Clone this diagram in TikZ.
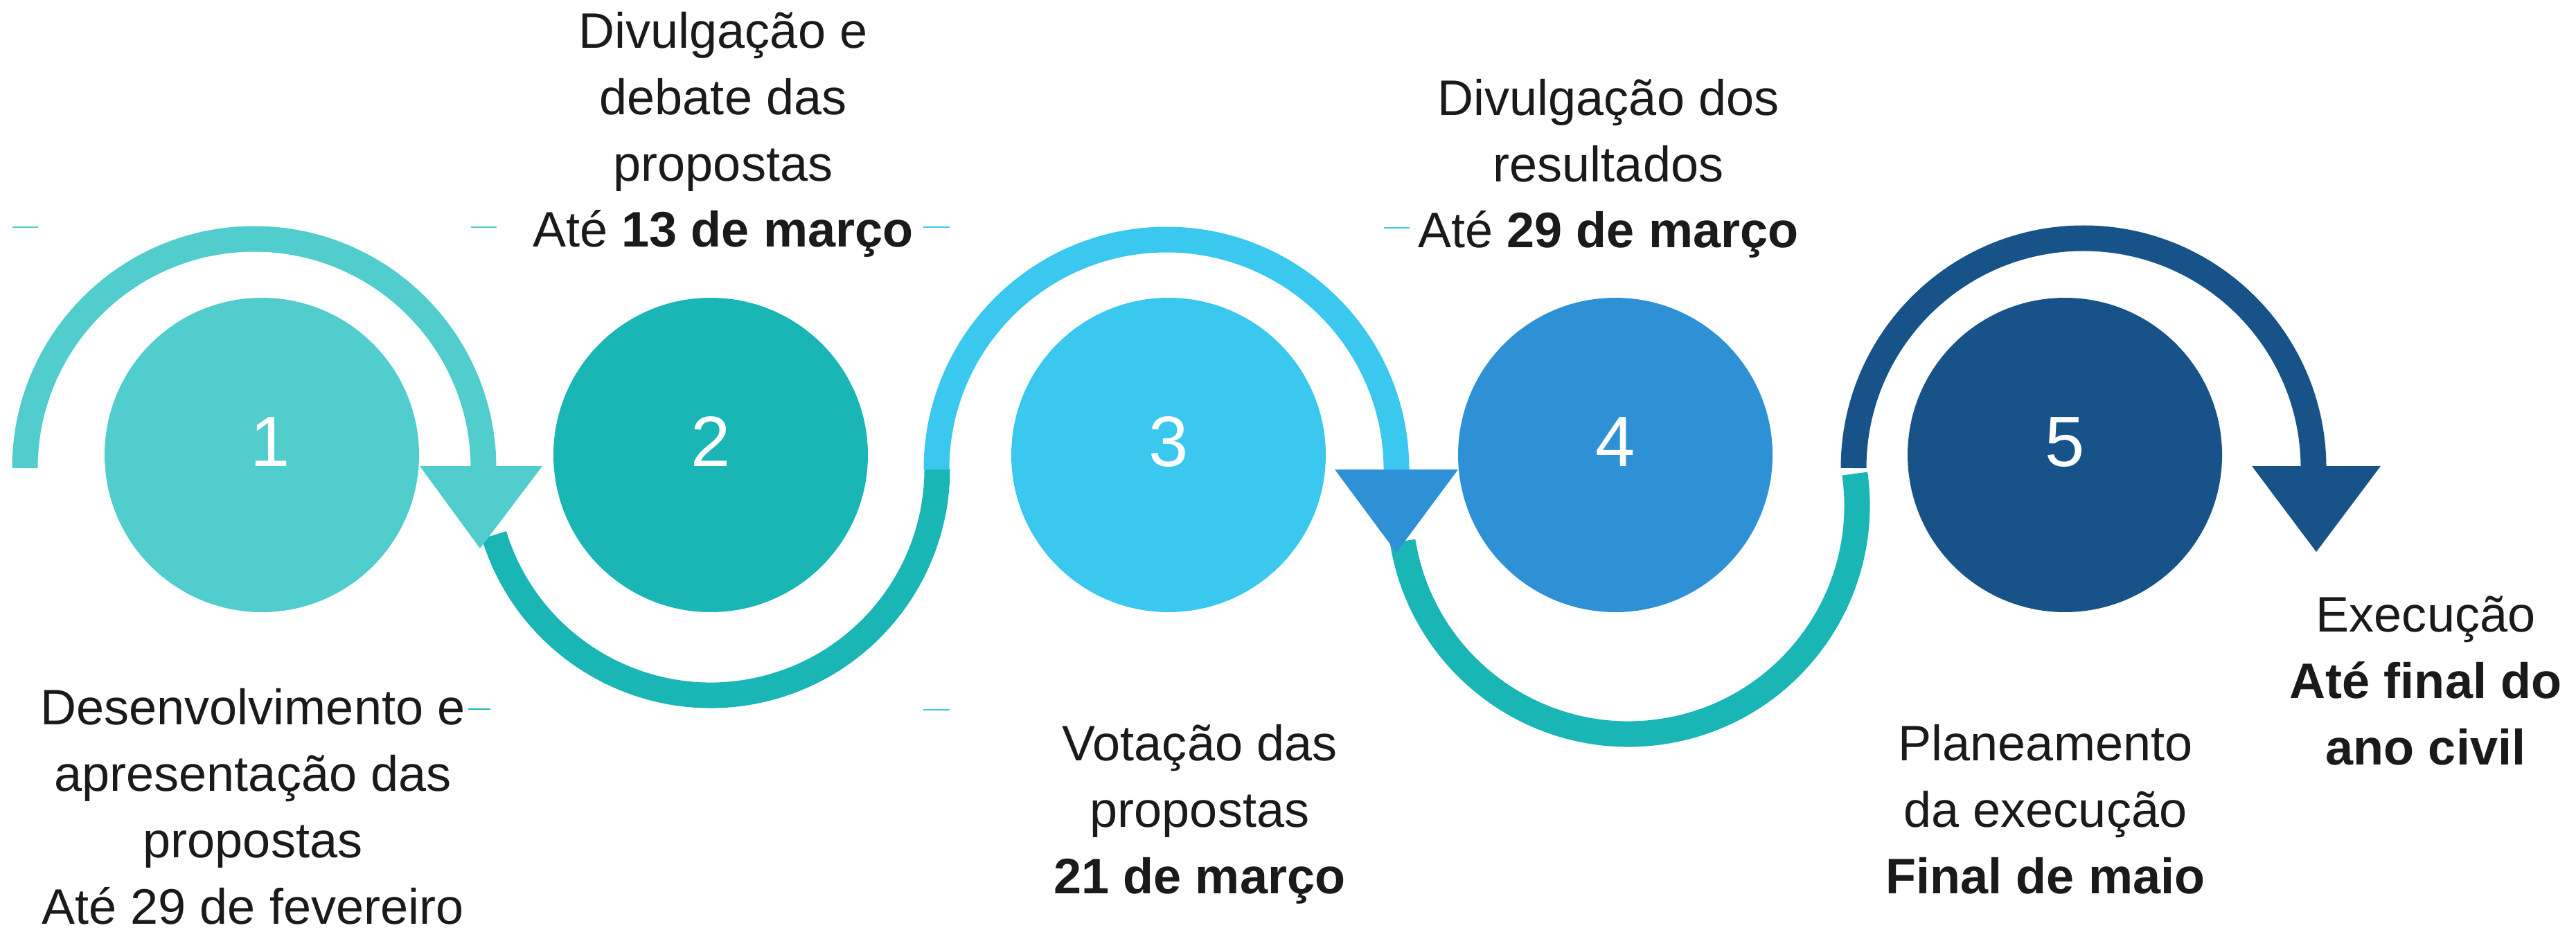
\documentclass[tikz,border=0pt]{standalone}
\usepackage{fontspec}
\setmainfont{Liberation Sans}
\definecolor{lightteal}{RGB}{80,205,204}
\definecolor{deepteal}{RGB}{26,181,181}
\definecolor{skyblue}{RGB}{58,200,239}
\definecolor{midblue}{RGB}{46,145,213}
\definecolor{navyblue}{RGB}{23,83,137}
\definecolor{inkgray}{RGB}{26,26,26}

\begin{document}
\begin{tikzpicture}[
    step circle/.style={circle, fill=#1, minimum size=4.54cm, inner sep=0pt, text=white,
      font=\fontsize{29.3}{35}\selectfont, text height=0.74cm, text depth=0.42cm},
    stage text/.style={align=center, anchor=base, text=inkgray, inner sep=0pt,
      font=\fontsize{20.5}{27.3}\selectfont},
    arc line/.style={draw=#1, line width=0.37cm},
    tick/.style={draw=#1, line width=0.02cm}
  ]
      \useasboundingbox (0,0) rectangle (37.19,-13.43);

      \node[step circle=lightteal] (1) at (3.78, -6.57) {\hspace*{0.24cm}1};
      \node[step circle=deepteal] (2) at (10.26, -6.57) {2};
      \node[step circle=skyblue] (3) at (16.87, -6.57) {3};
      \node[step circle=midblue] (4) at (23.32, -6.57) {4};
      \node[step circle=navyblue] (5) at (29.81, -6.57) {5};

      % texts, placed by the baseline of their last line
      \node[stage text] (t1) at (3.65, -13.34) {Desenvolvimento e\\apresentação das\\propostas\\Até 29 de fevereiro};
      \node[stage text] (t2) at (10.44, -3.57) {Divulgação e\\debate das\\propostas\\Até\ \textbf{13 de março}};
      \node[stage text] (t3) at (23.22, -3.58) {Divulgação dos\\resultados\\Até\ \textbf{29 de março}};
      \node[stage text] (t4) at (17.32, -12.90) {Votação das\\propostas\\\textbf{21 de março}};
      \node[stage text] (t5) at (29.53, -12.90) {Planeamento\\da execução\\\textbf{Final de maio}};
      \node[stage text] (t6) at (35.02, -11.04) {Execução\\\textbf{Até final do}\\\textbf{ano civil}};

      % arcs over and under the circles
      \coordinate (s1) at (0.36, -6.76);
      \coordinate (s2) at (13.52, -6.78);
      \coordinate (s3) at (26.76, -6.76);
      \draw[arc line=lightteal] (s1) arc[start angle=180, end angle=0, radius=3.31] coordinate (e1);
      \draw[arc line=deepteal] (10.26, -6.77) ++(197:3.27) arc[start angle=197, end angle=360, radius=3.27];
      \draw[arc line=skyblue] (s2) arc[start angle=180, end angle=0, radius=3.32] coordinate (e2);
      \draw[arc line=deepteal] (23.51, -7.30) ++(189:3.30) arc[start angle=189, end angle=368, radius=3.30];
      \draw[arc line=navyblue] (s3) arc[start angle=180, end angle=0, radius=3.32] coordinate (e3);

      % arrow heads
      \fill[lightteal] (e1) ++(-0.92, 0.03) -- ++(1.77, 0) -- ++(-0.90, -1.19) -- cycle;
      \fill[midblue] (e2) ++(-0.89, 0) -- ++(1.78, 0) -- ++(-0.89, -1.20) -- cycle;
      \fill[navyblue] (e3) ++(-0.89, 0.03) -- ++(1.86, 0) -- ++(-0.93, -1.24) -- cycle;

      % small ticks
      \draw[tick=lightteal] (0.18, -3.28) -- (0.55, -3.28);
      \draw[tick=lightteal] (6.80, -3.28) -- (7.17, -3.28);
      \draw[tick=skyblue] (13.33, -3.28) -- (13.71, -3.28);
      \draw[tick=skyblue] (19.98, -3.29) -- (20.35, -3.29);
      \draw[tick=deepteal] (6.76, -10.24) -- (7.08, -10.24);
      \draw[tick=skyblue] (13.33, -10.25) -- (13.71, -10.25);

    \end{tikzpicture}
\end{document}
